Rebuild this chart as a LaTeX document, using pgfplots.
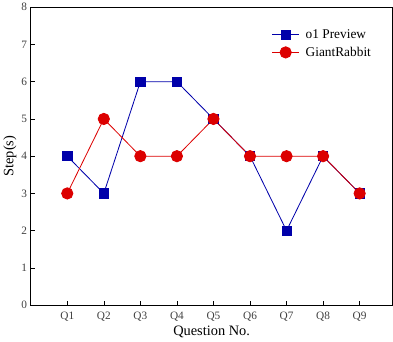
\documentclass[border=0pt]{standalone}
\usepackage{fontspec}
\setmainfont{Liberation Serif}
\usepackage{pgfplots}
\pgfplotsset{compat=1.18}
\definecolor{oblue}{RGB}{0,0,170}
\definecolor{gred}{RGB}{220,0,0}
\begin{document}
\begin{tikzpicture}[x=1bp,y=1bp]
\begin{axis}[
    scale only axis,
    width=351bp, height=289bp,
    xmin=0, xmax=9.9,
    ymin=0, ymax=8,
    xtick={1,...,9},
    xticklabels={Q1,Q2,Q3,Q4,Q5,Q6,Q7,Q8,Q9},
    ytick={0,...,8},
    tick align=inside,
    xtick pos=bottom, ytick pos=left,
    major tick length=4bp,
    tick style={black, line width=0.6pt},
    axis line style={line width=0.9pt},
    tick label style={font=\fontsize{11}{13}\selectfont, text=black!75},
    /pgf/number format/assume math mode=true,
    xticklabel style={yshift=-3bp},
    xlabel={Question No.},
    ylabel={Step(s)},
    label style={font=\fontsize{14}{16}\selectfont},
    xlabel style={yshift=2bp},
    ylabel style={yshift=-2bp},
    legend style={draw=none, fill=none, at={(0.955,0.94)}, anchor=north east,
        font=\fontsize{13}{15}\selectfont, row sep=3bp},
    legend cell align=left,
    legend image code/.code={
        \draw[#1, mark=none] (0bp,0bp) -- (26bp,0bp);
        \path[#1, only marks] plot coordinates {(13bp,0bp)};
    },
]
\addplot[oblue, line width=0.8pt, mark=square*, mark size=4.5bp, mark options={solid, fill=oblue}] coordinates {
    (1,4) (2,3) (3,6) (4,6) (5,5) (6,4) (7,2) (8,4) (9,3)
};
\addplot[gred, line width=0.8pt, mark=*, mark size=5.5bp, mark options={solid, fill=gred}] coordinates {
    (1,3) (2,5) (3,4) (4,4) (5,5) (6,4) (7,4) (8,4) (9,3)
};
\legend{\hspace{4bp}o1 Preview, \hspace{4bp}GiantRabbit}
\end{axis}
\end{tikzpicture}
\end{document}
